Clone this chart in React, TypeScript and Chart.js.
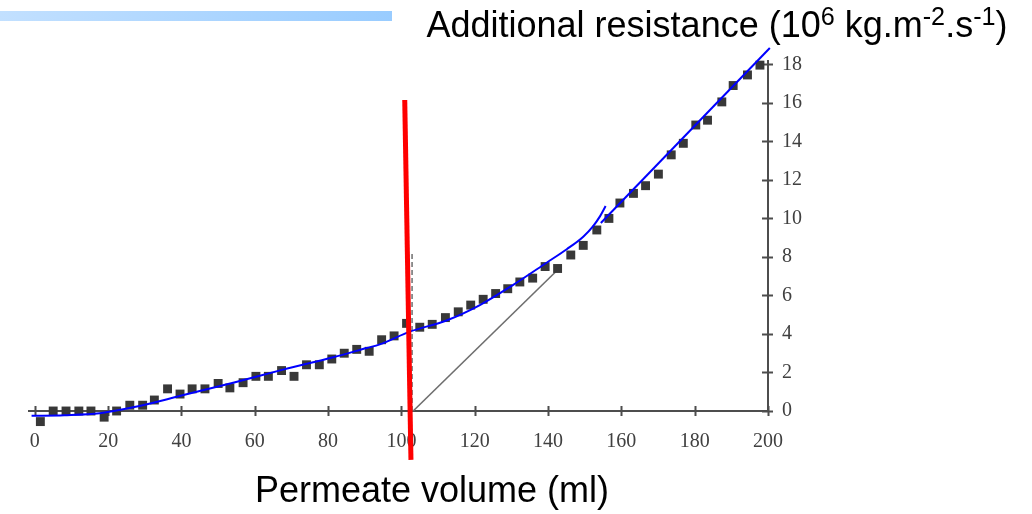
import React, { useEffect, useRef } from 'react';
import { Chart, registerables } from 'chart.js';

Chart.register(...registerables);

// Measured points: permeate volume (ml) vs additional resistance (10^6 kg.m^-2.s^-1)
const VOLUME = [
  1.5, 5.0, 8.5, 12.0, 15.3, 18.9, 22.3, 25.9, 29.4, 32.6,
  36.2, 39.6, 42.9, 46.4, 50.0, 53.2, 56.8, 60.3, 63.7, 67.3,
  70.7, 74.1, 77.6, 81.0, 84.4, 87.8, 91.2, 94.6, 98.0, 101.4,
  105.0, 108.4, 112.0, 115.5, 118.9, 122.3, 125.7, 129.0, 132.3, 135.8,
  139.2, 142.6, 146.2, 149.6, 153.3, 156.6, 159.6, 163.3, 166.6, 170.1,
  173.6, 176.9, 180.3, 183.5, 187.4, 190.5, 194.4, 197.8,
];
const RESISTANCE = [
  -0.55, 0, 0, 0, 0, -0.32, 0, 0.3, 0.3, 0.57,
  1.15, 0.88, 1.15, 1.15, 1.43, 1.2, 1.47, 1.8, 1.8, 2.1,
  1.8, 2.4, 2.4, 2.7, 3.0, 3.2, 3.1, 3.7, 3.9, 4.55,
  4.35, 4.5, 4.85, 5.15, 5.5, 5.8, 6.1, 6.35, 6.7, 6.9,
  7.5, 7.4, 8.1, 8.6, 9.4, 10.0, 10.8, 11.3, 11.7, 12.3,
  13.3, 13.9, 14.85, 15.1, 16.05, 16.9, 17.45, 17.96,
];

// Hand-drawn blue fitted curve
const FIT_VOLUME = [-0.9, 8, 17.7, 26.8, 40, 54.1, 67.7, 81.4, 90.5, 94.1, 102.3, 112.3, 121.4, 130.5, 139.6, 145.1, 149.6, 152.3, 154.2, 155.7];
const FIT_RESISTANCE = [-0.25, -0.22, -0.12, 0.19, 0.8, 1.47, 2.15, 2.79, 3.27, 3.46, 4.12, 4.7, 5.5, 6.55, 7.7, 8.4, 9.05, 9.6, 10.12, 10.64];

// Blue straight line (late linear regime)
const LINEAR_VOLUME = [154.4, 200.5];
const LINEAR_RESISTANCE = [9.76, 18.85];

// Gray tangent line from the x-axis
const TANGENT_VOLUME = [103.2, 142.3];
const TANGENT_RESISTANCE = [0, 7.27];

// Gray dashed vertical line
const DASH_VOLUME = [102.9, 102.9];
const DASH_RESISTANCE = [0, 8.2];

// Red marker line
const MARKER_VOLUME = [100.9, 102.6];
const MARKER_RESISTANCE = [16.15, -2.54];

const X_TICKS = [0, 20, 40, 60, 80, 100, 120, 140, 160, 180, 200];
const Y_TICKS = [0, 2, 4, 6, 8, 10, 12, 14, 16, 18];

const X_TITLE = 'Permeate volume (ml)';
const Y_TITLE_RUNS = [
  { text: 'Additional resistance (10', sup: false },
  { text: '6', sup: true },
  { text: ' kg.m', sup: false },
  { text: '-2', sup: true },
  { text: '.s', sup: false },
  { text: '-1', sup: true },
  { text: ')', sup: false },
];

const AXIS_COLOR = '#4d4d4d';
const TICK_COLOR = '#404040';
const TITLE_FONT = '"Liberation Sans", Arial, sans-serif';
const TITLE_SIZE = 36;

const pts = (xs: number[], ys: number[]) => xs.map((x, i) => ({ x, y: ys[i] }));

function drawRuns(ctx: CanvasRenderingContext2D, runs: { text: string; sup: boolean }[], cx: number, baseline: number) {
  const supSize = TITLE_SIZE * 0.7;
  let total = 0;
  const widths = runs.map((r) => {
    ctx.font = `${r.sup ? supSize : TITLE_SIZE}px ${TITLE_FONT}`;
    const w = ctx.measureText(r.text).width;
    total += w;
    return w;
  });
  let x = cx - total / 2;
  ctx.textAlign = 'left';
  ctx.textBaseline = 'alphabetic';
  ctx.fillStyle = '#000';
  runs.forEach((r, i) => {
    ctx.font = `${r.sup ? supSize : TITLE_SIZE}px ${TITLE_FONT}`;
    ctx.fillText(r.text, x, r.sup ? baseline - TITLE_SIZE * 0.34 : baseline);
    x += widths[i];
  });
}

const decorPlugin = {
  id: 'decor',
  beforeDraw(chart: any) {
    const { ctx, width, height } = chart;
    ctx.save();
    ctx.fillStyle = '#ffffff';
    ctx.fillRect(0, 0, width, height);
    const g = ctx.createLinearGradient(0, 0, 392, 0);
    g.addColorStop(0, '#c2e0ff');
    g.addColorStop(1, '#99ccff');
    ctx.fillStyle = g;
    ctx.fillRect(0, 11, 392, 10);
    ctx.restore();
  },
  beforeDatasetsDraw(chart: any) {
    const { ctx, chartArea, scales } = chart;
    ctx.save();
    ctx.strokeStyle = AXIS_COLOR;
    ctx.lineWidth = 2;
    ctx.beginPath();
    X_TICKS.forEach((v) => {
      const px = Math.round(scales.x.getPixelForValue(v)) + 0.5;
      ctx.moveTo(px, chartArea.bottom - 5);
      ctx.lineTo(px, chartArea.bottom + 5);
    });
    Y_TICKS.forEach((v) => {
      const py = Math.round(scales.y.getPixelForValue(v)) + 0.5;
      ctx.moveTo(chartArea.right - 6, py);
      ctx.lineTo(chartArea.right + 5, py);
    });
    ctx.stroke();
    ctx.restore();
  },
  afterDraw(chart: any) {
    const { ctx } = chart;
    ctx.save();
    drawRuns(ctx, Y_TITLE_RUNS, 717, 37);
    drawRuns(ctx, [{ text: X_TITLE, sup: false }], 432, 502);
    ctx.restore();
  },
};

export default function App() {
  const ref = useRef<HTMLCanvasElement | null>(null);

  useEffect(() => {
    if (!ref.current) return;
    const lineDs = (data: any[], color: string, width: number, order: number, extra: any = {}) => ({
      data,
      showLine: true,
      borderColor: color,
      backgroundColor: color,
      borderWidth: width,
      pointRadius: 0,
      fill: false,
      clip: false,
      order,
      ...extra,
    });
    const chart = new Chart(ref.current, {
      type: 'scatter',
      data: {
        datasets: [
          lineDs(pts(MARKER_VOLUME, MARKER_RESISTANCE), '#ff0000', 5, 0),
          lineDs(pts(FIT_VOLUME, FIT_RESISTANCE), '#0000ff', 2, 1, { cubicInterpolationMode: 'monotone' }),
          lineDs(pts(LINEAR_VOLUME, LINEAR_RESISTANCE), '#0000ff', 2, 1),
          {
            data: pts(VOLUME, RESISTANCE),
            pointStyle: 'rect',
            pointRadius: 6.3,
            backgroundColor: '#383838',
            borderColor: 'rgba(0,0,0,0)',
            borderWidth: 10,
            showLine: false,
            clip: false,
            order: 2,
          },
          lineDs(pts(TANGENT_VOLUME, TANGENT_RESISTANCE), '#6e6e6e', 1.6, 3),
          lineDs(pts(DASH_VOLUME, DASH_RESISTANCE), '#777777', 1.6, 3, { borderDash: [5, 3] }),
        ],
      },
      options: {
        responsive: false,
        animation: false,
        events: [],
        layout: { padding: { left: 29, top: 60.5, right: 0, bottom: 0 } },
        plugins: {
          legend: { display: false },
          tooltip: { enabled: false },
          title: { display: false },
        },
        scales: {
          x: {
            type: 'linear',
            position: 'bottom',
            min: -1.6,
            max: 200,
            afterBuildTicks: (s: any) => {
              s.ticks = X_TICKS.map((v) => ({ value: v }));
            },
            afterFit: (s: any) => {
              s.height = 103;
            },
            grid: { display: true, drawOnChartArea: false, drawTicks: false },
            border: { display: true, color: AXIS_COLOR, width: 2 },
            ticks: {
              font: { family: '"Liberation Serif", serif', size: 20 },
              color: TICK_COLOR,
              padding: 19,
              maxRotation: 0,
              autoSkip: false,
              callback: (v: any) => String(v),
            },
          },
          y: {
            type: 'linear',
            position: 'right',
            min: 0,
            max: 18.2,
            afterBuildTicks: (s: any) => {
              s.ticks = Y_TICKS.map((v) => ({ value: v }));
            },
            afterFit: (s: any) => {
              s.width = 264;
            },
            grid: { display: true, drawOnChartArea: false, drawTicks: false },
            border: { display: true, color: AXIS_COLOR, width: 2 },
            ticks: {
              font: { family: '"Liberation Serif", serif', size: 20 },
              color: TICK_COLOR,
              padding: 14,
              autoSkip: false,
              callback: (v: any) => String(v),
            },
          },
        },
      } as any,
      plugins: [decorPlugin],
    });
    return () => chart.destroy();
  }, []);

  return (
    <div style={{ position: 'absolute', left: 0, top: 0, width: 1032, height: 514 }}>
      <canvas ref={ref} width={1032} height={514} style={{ display: 'block', width: 1032, height: 514 }} />
    </div>
  );
}
